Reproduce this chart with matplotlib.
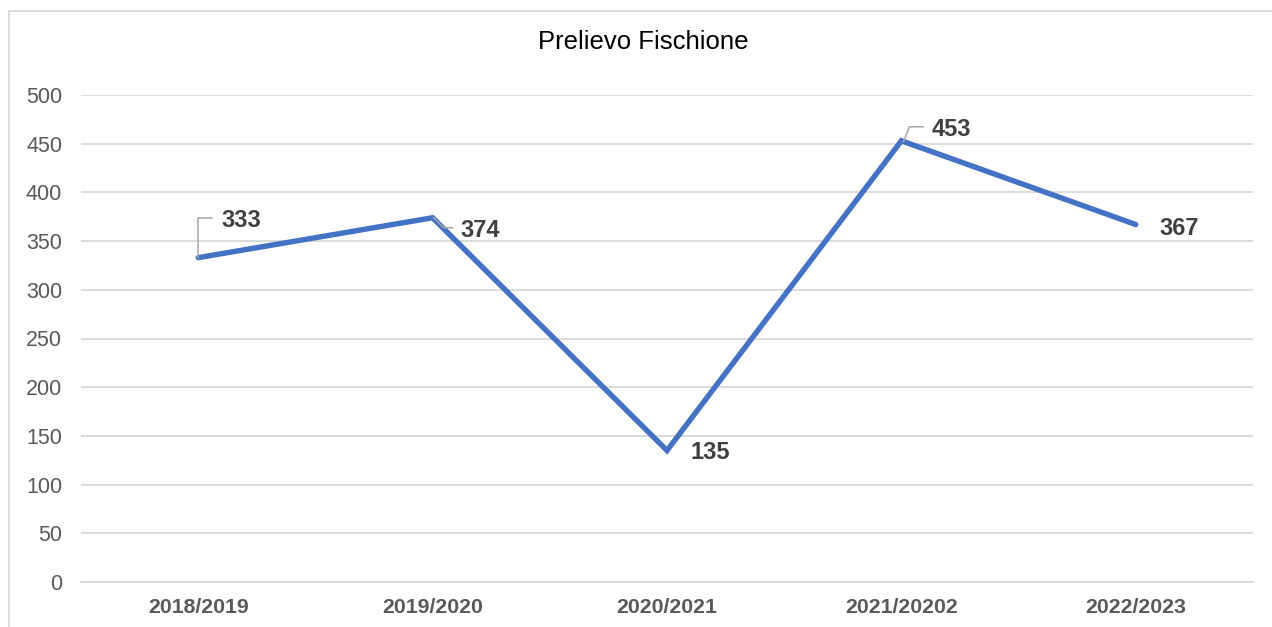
import matplotlib
matplotlib.use("Agg")
import matplotlib.pyplot as plt
from matplotlib.patches import Rectangle
from matplotlib.lines import Line2D
import matplotlib.transforms as mtransforms

plt.rcParams['font.family'] = ['Liberation Sans', 'DejaVu Sans']

categories = ["2018/2019", "2019/2020", "2020/2021", "2021/20202", "2022/2023"]
values = [333, 374, 135, 453, 367]
title = "Prelievo Fischione"
yticks = [0, 50, 100, 150, 200, 250, 300, 350, 400, 450, 500]

# label offsets in pixels (dx, dy) and leader lines (pixel offsets from point)
label_offsets = [(23, 37), (28, -13), (24, -2), (30, 11), (24, -4)]
leaders = [
    [(0, 0), (0, 40), (14, 40)],
    [(1, 0), (11, -10), (20, -10)],
    None,
    [(2, -1), (8, 14), (22, 14)],
    None,
]

W, H = 1272, 627
fig = plt.figure(figsize=(W / 100, H / 100), dpi=100)

# chart border
fig.patches.append(Rectangle((9 / W, -0.1), 1.2, 1 - 11 / H + 0.1, transform=fig.transFigure,
                             fill=False, edgecolor='#d9d9d9', linewidth=1.3, zorder=0))

ax = fig.add_axes([81 / W, 1 - 582 / H, (1253 - 81) / W, (582 - 95) / H])
x = list(range(len(categories)))
ax.plot(x, values, color='#4472C4', linewidth=3.9, solid_capstyle='round',
        solid_joinstyle='miter', zorder=3)

ax.set_xlim(-0.5, len(categories) - 0.5)
ax.set_ylim(0, 500)
ax.set_yticks(yticks)
ax.set_yticklabels([str(t) for t in yticks])
ax.set_xticks(x)
ax.set_xticklabels(categories, fontweight='bold')
ax.tick_params(axis='y', length=0, pad=13.5, labelsize=15.5, labelcolor='#595959')
ax.tick_params(axis='x', length=0, pad=11.5, labelsize=15.3, labelcolor='#595959')
ax.grid(axis='y', color='#d9d9d9', linewidth=1.3)
ax.set_axisbelow(True)
for s in ['top', 'right', 'left']:
    ax.spines[s].set_visible(False)
ax.spines['bottom'].set_color('#d9d9d9')
ax.spines['bottom'].set_linewidth(1.3)

for i, v in enumerate(values):
    dx, dy = label_offsets[i]
    ax.annotate(str(v), (i, v), xytext=(dx, dy), textcoords='offset pixels',
                ha='left', va='center', fontsize=17, fontweight='bold', color='#404040')
    if leaders[i]:
        px, py = ax.transData.transform((i, v))
        xs = [(px + a) for a, b in leaders[i]]
        ys = [(py + b) for a, b in leaders[i]]
        ln = Line2D(xs, ys, transform=mtransforms.IdentityTransform(), color='#a6a6a6',
                    linewidth=1.1, zorder=4)
        fig.lines.append(ln)

fig.text(643 / W, 1 - 49 / H, title, ha='center', va='baseline', fontsize=18.5, color='#000000')

fig.savefig('out.png', dpi=100)
